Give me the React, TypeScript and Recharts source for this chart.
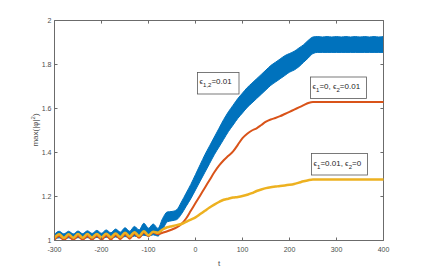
import React from 'react';
import { ComposedChart, Line, Area, XAxis, YAxis, ReferenceLine } from 'recharts';

const tValues = [
  -300, -290, -280, -270, -260, -250, -240, -230, -220, -210, -200, -190, -180, -170, -160, -150,
  -140, -130, -120, -110, -100, -90, -80, -70, -60, -50, -40, -30, -20, -10, 0, 10, 20, 30, 40, 50,
  60, 70, 80, 90, 100, 110, 120, 130, 140, 150, 160, 170, 180, 190, 200, 210, 220, 230, 240, 250,
  260, 270, 280, 290, 300, 310, 320, 330, 340, 350, 360, 370, 380, 390, 400,
];

// eps_{1,2}=0.01 : fast oscillation, drawn as a band (low / high envelope)
const blueLo = [
  1.008, 1.012, 1.008, 1.012, 1.008, 1.013, 1.009, 1.013, 1.01, 1.014, 1.01, 1.015, 1.011, 1.016,
  1.012, 1.018, 1.014, 1.02, 1.016, 1.024, 1.02, 1.026, 1.02, 1.05, 1.085, 1.09, 1.095, 1.12, 1.155,
  1.19, 1.23, 1.27, 1.31, 1.35, 1.39, 1.425, 1.46, 1.495, 1.525, 1.555, 1.58, 1.605, 1.625, 1.645,
  1.665, 1.685, 1.705, 1.72, 1.735, 1.75, 1.765, 1.775, 1.79, 1.81, 1.83, 1.85, 1.855, 1.855, 1.855,
  1.855, 1.855, 1.855, 1.855, 1.855, 1.855, 1.855, 1.855, 1.855, 1.855, 1.855, 1.855,
];
const blueHi = [
  1.028, 1.042, 1.03, 1.042, 1.03, 1.043, 1.031, 1.044, 1.032, 1.046, 1.033, 1.048, 1.035, 1.052,
  1.038, 1.058, 1.042, 1.064, 1.048, 1.078, 1.056, 1.075, 1.055, 1.1, 1.13, 1.132, 1.14, 1.175, 1.215,
  1.255, 1.3, 1.345, 1.39, 1.43, 1.47, 1.51, 1.55, 1.585, 1.615, 1.645, 1.67, 1.695, 1.715, 1.735,
  1.755, 1.775, 1.795, 1.81, 1.825, 1.84, 1.85, 1.86, 1.875, 1.89, 1.91, 1.925, 1.927, 1.925, 1.927,
  1.925, 1.927, 1.925, 1.927, 1.925, 1.927, 1.925, 1.927, 1.925, 1.927, 1.925, 1.927,
];
// eps1=0, eps2=0.01
const orange = [
  1.003, 1.02, 1.002, 1.02, 1.002, 1.021, 1.002, 1.021, 1.003, 1.022, 1.003, 1.023, 1.004, 1.025,
  1.006, 1.028, 1.008, 1.032, 1.012, 1.036, 1.02, 1.038, 1.028, 1.035, 1.042, 1.05, 1.06, 1.075, 1.1,
  1.135, 1.17, 1.205, 1.24, 1.275, 1.31, 1.34, 1.365, 1.385, 1.405, 1.435, 1.465, 1.485, 1.5, 1.51,
  1.525, 1.54, 1.55, 1.557, 1.565, 1.575, 1.585, 1.595, 1.605, 1.615, 1.625, 1.63, 1.63, 1.63, 1.63,
  1.63, 1.63, 1.63, 1.63, 1.63, 1.63, 1.63, 1.63, 1.63, 1.63, 1.63, 1.63,
];
// eps1=0.01, eps2=0
const yellow = [
  1.012, 1.028, 1.012, 1.028, 1.013, 1.029, 1.013, 1.029, 1.014, 1.03, 1.014, 1.031, 1.015, 1.032,
  1.016, 1.035, 1.018, 1.038, 1.02, 1.042, 1.024, 1.04, 1.035, 1.05, 1.06, 1.065, 1.07, 1.075, 1.085,
  1.095, 1.105, 1.12, 1.135, 1.15, 1.163, 1.175, 1.185, 1.19, 1.195, 1.198, 1.202, 1.208, 1.215,
  1.225, 1.232, 1.238, 1.242, 1.245, 1.248, 1.25, 1.253, 1.257, 1.263, 1.269, 1.274, 1.277, 1.277,
  1.277, 1.277, 1.277, 1.277, 1.277, 1.277, 1.277, 1.277, 1.277, 1.277, 1.277, 1.277, 1.277, 1.277,
];

const xTicks = [-300, -200, -100, 0, 100, 200, 300, 400];
const yTicks = [1, 1.2, 1.4, 1.6, 1.8, 2];
const xMin = -300;
const xMax = 400;
const yMin = 1;
const yMax = 2;

const data = tValues.map((t, i) => ({
  t,
  band: [blueLo[i], blueHi[i]],
  orange: orange[i],
  yellow: yellow[i],
}));

const axisColor = '#6b6b6b';
const labelColor = '#4d4d4d';
const font = '"Liberation Sans", Arial, sans-serif';

const Eps = ({ x, y, parts }: { x: number; y: number; parts: [string, string][] }) => (
  <text x={x} y={y} fontSize={8} fill="#262626" fontFamily={font}>
    {parts.map(([sub, rest], i) => (
      <React.Fragment key={i}>
        <tspan>{'\u03f5'}</tspan>
        <tspan fontSize={6} dy={3}>{sub}</tspan>
        <tspan dy={-3}>{rest}</tspan>
      </React.Fragment>
    ))}
  </text>
);

export default function App() {
  return (
    <div style={{ position: 'absolute', left: 0, top: 0, width: 424, height: 271, background: '#fff' }}>
      <ComposedChart
        width={424}
        height={271}
        data={data}
        margin={{ top: 20.5, right: 40.5, left: 0, bottom: 0 }}
      >
        <XAxis
          dataKey="t"
          type="number"
          domain={[xMin, xMax]}
          ticks={xTicks}
          height={30.5}
          stroke={axisColor}
          tickSize={-3}
          tickMargin={10}
          tick={{ fill: labelColor, fontSize: 7, fontFamily: font }}
        />
        <YAxis
          type="number"
          domain={[yMin, yMax]}
          ticks={yTicks}
          width={54.5}
          stroke={axisColor}
          tickSize={-3}
          tickMargin={6}
          tick={{ fill: labelColor, fontSize: 7, fontFamily: font }}
        />
        {/* box on: top and right edges with inward ticks */}
        <ReferenceLine y={yMax} stroke={axisColor} strokeWidth={1} ifOverflow="visible" />
        <ReferenceLine x={xMax} stroke={axisColor} strokeWidth={1} ifOverflow="visible" />
        {xTicks.map((t) => (
          <ReferenceLine
            key={'xt' + t}
            segment={[{ x: t, y: yMax }, { x: t, y: yMax - 0.014 }]}
            stroke={axisColor}
            ifOverflow="visible"
          />
        ))}
        {yTicks.map((v) => (
          <ReferenceLine
            key={'yt' + v}
            segment={[{ x: xMax, y: v }, { x: xMax - 6.5, y: v }]}
            stroke={axisColor}
            ifOverflow="visible"
          />
        ))}
        <Area
          dataKey="band"
          type="monotone"
          stroke="#0072BD"
          strokeWidth={1}
          fill="#0072BD"
          fillOpacity={1}
          isAnimationActive={false}
        />
        <Line
          dataKey="orange"
          type="monotone"
          stroke="#D95319"
          strokeWidth={2}
          dot={false}
          isAnimationActive={false}
        />
        <Line
          dataKey="yellow"
          type="monotone"
          stroke="#EDB120"
          strokeWidth={2.5}
          dot={false}
          isAnimationActive={false}
        />
      </ComposedChart>
      <svg
        width={424}
        height={271}
        style={{ position: 'absolute', left: 0, top: 0, pointerEvents: 'none' }}
      >
        <text
          transform="translate(38,130) rotate(-90)"
          textAnchor="middle"
          fontSize={8}
          fill={labelColor}
          fontFamily={font}
        >
          max(|{'\u03c6'}|<tspan dy={-3} fontSize={6}>2</tspan><tspan dy={3}>)</tspan>
        </text>
        <text x={219} y={266} textAnchor="middle" fontSize={8} fill={labelColor} fontFamily={font}>
          t
        </text>
        <rect x={197.5} y={72.5} width={41.5} height={21.5} fill="#fff" stroke="#595959" strokeWidth={0.8} />
        <Eps x={199.5} y={84} parts={[['1,2', '=0.01']]} />
        <rect x={310.5} y={77} width={56} height={21.5} fill="#fff" stroke="#595959" strokeWidth={0.8} />
        <Eps x={312.5} y={89} parts={[['1', '=0, '], ['2', '=0.01']]} />
        <rect x={311.5} y={153.5} width={56} height={21.5} fill="#fff" stroke="#595959" strokeWidth={0.8} />
        <Eps x={313.5} y={165.5} parts={[['1', '=0.01, '], ['2', '=0']]} />
      </svg>
    </div>
  );
}
